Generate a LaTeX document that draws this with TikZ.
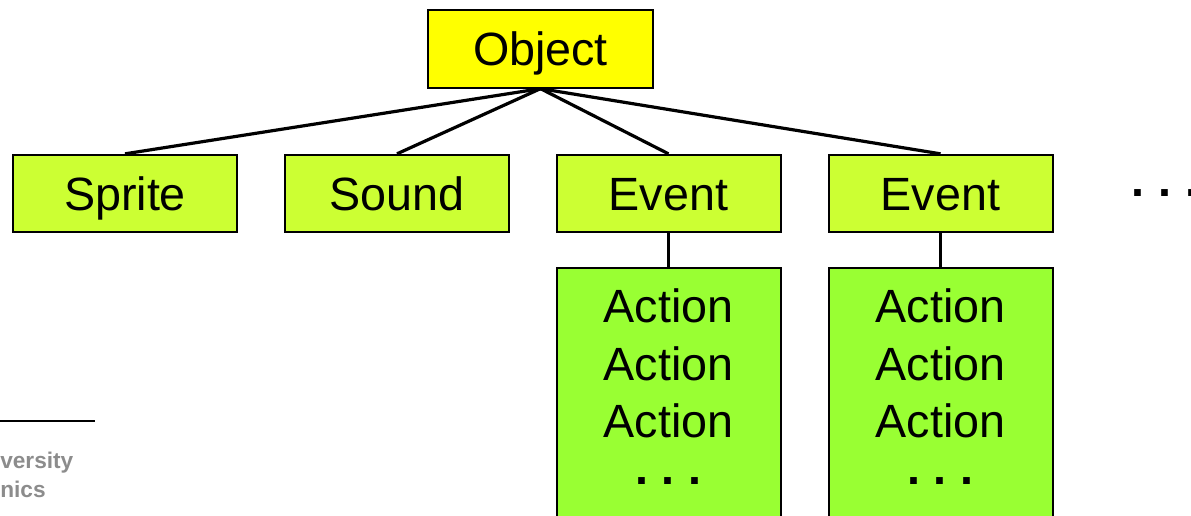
\documentclass[tikz,border=0pt]{standalone}
\usepackage{fontspec}
\setmainfont{Liberation Sans}
\definecolor{objyellow}{HTML}{FFFF00}
\definecolor{evgreen}{HTML}{CCFF33}
\definecolor{actgreen}{HTML}{99FF33}
\definecolor{logogray}{HTML}{8C8C8C}
\newcommand{\dotrow}{{\bfseries .\hspace{10.5pt}.\hspace{10.5pt}.}}

\begin{document}
\begin{tikzpicture}[x=0.75pt, y=-0.75pt,
    bigtext/.style={font=\fontsize{35pt}{43pt}\selectfont},
    box/.style={draw, line width=1.5pt, inner sep=0pt, minimum width=168pt,
      minimum height=58pt, bigtext, text height=25pt, text depth=0pt},
    link/.style={line width=2.4pt},
    logo/.style={font=\fontsize{17pt}{20pt}\selectfont\bfseries, text=logogray,
      anchor=base west, inner sep=0pt}]
  \useasboundingbox (0,0) rectangle (1191,516);
  \clip (0,0) rectangle (1191,516);
  % root and first row
  \node [box, fill=objyellow, minimum width=169pt] (obj) at (540.5,49) {Object};
  \node [box, fill=evgreen] (sprite) at (125,193.5) {Sprite};
  \node [box, fill=evgreen] (sound) at (397,193.5) {Sound};
  \node [box, fill=evgreen] (eventa) at (668.5,193.5) {Event};
  \node [box, fill=evgreen] (eventb) at (940.5,193.5) {Event};
  \node [bigtext, anchor=base west, inner sep=0pt] (more) at (1131,197) {\dotrow};
  % action lists
  \node [box, fill=actgreen, anchor=north, minimum height=200pt] (actsa) at (668.5,267) {};
  \node [box, fill=actgreen, anchor=north, minimum height=200pt] (actsb) at (940.5,267) {};
  \node [bigtext, align=center, anchor=base] (lista) at (668.5,484) {Action\\Action\\Action\\[-8pt]\dotrow};
  \node [bigtext, align=center, anchor=base] (listb) at (940.5,484) {Action\\Action\\Action\\[-8pt]\dotrow};
  % connectors
  \draw [link] (obj.south) -- (sprite.north);
  \draw [link] (obj.south) -- (sound.north);
  \draw [link] (obj.south) -- (eventa.north);
  \draw [link] (obj.south) -- (eventb.north);
  \draw [link] (eventa.south) -- (actsa.north);
  \draw [link] (eventb.south) -- (actsb.north);
  % footer remains
  \draw [line width=2.2pt] (0,421) -- (95,421);
  \node [logo] (uni) at (0,468) {versity};
  \node [logo] (dept) at (0,497) {nics};
\end{tikzpicture}
\end{document}
